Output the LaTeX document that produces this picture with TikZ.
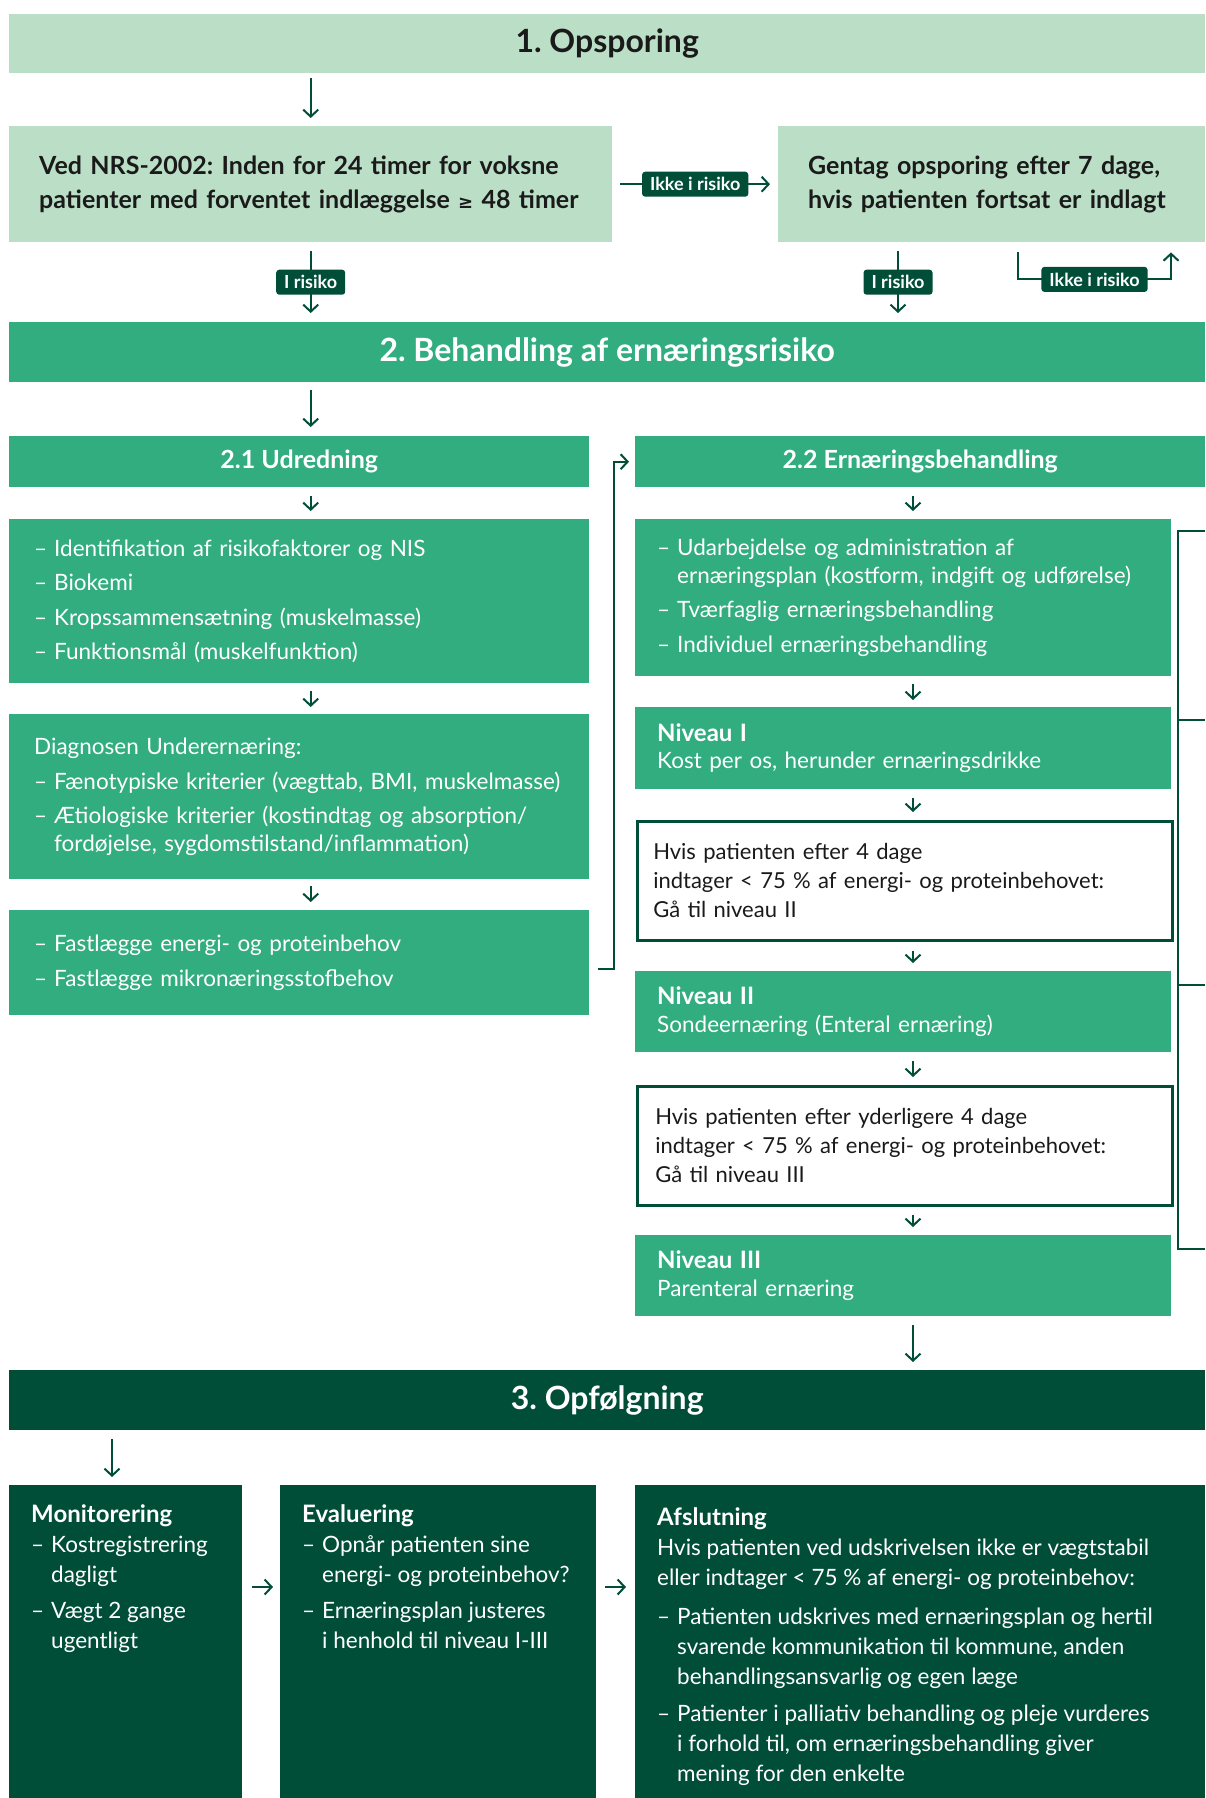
\documentclass[tikz,border=0pt]{standalone}
\usepackage{fontspec}
\setmainfont{Lato}
\newfontfamily\symfont{DejaVu Sans}
\usetikzlibrary{arrows.meta}
\frenchspacing
\definecolor{lysgroen}{HTML}{BBDEC7}
\definecolor{groen}{HTML}{31AD80}
\definecolor{moerkgroen}{HTML}{004E38}
\definecolor{tekst}{HTML}{1A1A1A}
\newcommand{\pkt}{\makebox[20pt][l]{–}}
\newcommand{\ind}{\hspace*{20pt}}
\newcommand{\brod}{\fontsize{22.5}{27.5}\selectfont}
\newcommand{\fed}[1]{{\bfseries\fontsize{24}{27}\selectfont #1}}
\tikzset{boks/.style={anchor=north west, inner ysep=0pt, align=left, font=\brod},
         lys/.style={boks, fill=lysgroen, text=tekst},
         mellem/.style={boks, fill=groen, text=white},
         moerk/.style={boks, fill=moerkgroen, text=white},
         hvid/.style={boks, draw=moerkgroen, line width=2.5pt, fill=white, text=tekst},
         overskrift/.style={align=center, font=\bfseries\fontsize{32}{36}\selectfont},
         underskrift/.style={align=center, font=\bfseries\fontsize{25}{28}\selectfont},
         maerke/.style={fill=moerkgroen, text=white, rounded corners=3pt, inner xsep=8pt, inner ysep=0pt,
                        minimum height=25pt, font=\bfseries\fontsize{18}{20}\selectfont},
         pil/.style={draw=moerkgroen, line width=2pt, -{Straight Barb[length=7pt,width=15pt]}}}

\begin{document}
\begin{tikzpicture}[x=1pt,y=-1pt]
\useasboundingbox (0,0) rectangle (1205,1798);
\node (ops) [lys, overskrift, minimum width=1196pt, minimum height=59pt] at (9,14) {1. Opsporing};
\node (nrs) [lys, font=\bfseries\fontsize{25}{34}\selectfont, inner xsep=30pt, text width=543pt, minimum height=116pt] at (9,126)
  {Ved NRS-2002: Inden for 24 timer for voksne\\ patienter med forventet indlæggelse {\symfont\fontsize{18}{34}\selectfont ≥} 48 timer};
\node (gen) [lys, font=\bfseries\fontsize{25}{34}\selectfont, inner xsep=30pt, text width=367pt, minimum height=116pt] at (778,126)
  {Gentag opsporing efter 7 dage,\\ hvis patienten fortsat er indlagt};
\node (beh) [mellem, overskrift, minimum width=1196pt, minimum height=60pt] at (9,322) {2. Behandling af ernæringsrisiko};

\draw[pil, shorten <=5pt, shorten >=8pt] (ops.south -| nrs.north) -- (nrs.north);
\draw[pil, shorten <=8pt, shorten >=8pt] (nrs.east) -- (gen.west) node[maerke, midway] {Ikke i risiko};
\draw[pil, shorten <=9pt, shorten >=9pt] (nrs.south) -- (beh.north -| nrs.south) node[maerke, midway] {I risiko};
\draw[pil, shorten <=9pt, shorten >=9pt] ([xshift=120pt]gen.south west) -- ([xshift=120pt]gen.south west |- beh.north)
  node[maerke, midway] {I risiko};
\draw[pil] ([xshift=240pt,yshift=-10pt]gen.south west) -- ++(0,27) -| node[maerke, pos=0.25] {Ikke i risiko}
  ([xshift=393pt,yshift=-10pt]gen.south west);

\node (udr) [mellem, underskrift, minimum width=580pt, minimum height=51pt] at (9,436) {2.1 Udredning};
\node (udr1) [mellem, inner xsep=25pt, text width=530pt, minimum height=164pt] at (9,519)
  {\pkt Identifikation af risikofaktorer og NIS\\[7pt] \pkt Biokemi\\[7pt]
   \pkt Kropssammensætning (muskelmasse)\\[7pt] \pkt Funktionsmål (muskelfunktion)};
\node (diag) [mellem, inner xsep=25pt, text width=530pt, minimum height=165pt] at (9,714)
  {Diagnosen Underernæring:\\[7pt] \pkt Fænotypiske kriterier (vægttab, BMI, muskelmasse)\\[7pt]
   \pkt Ætiologiske kriterier (kostindtag og absorption/\\ \ind fordøjelse, sygdomstilstand/inflammation)};
\node (fast) [mellem, inner xsep=25pt, text width=530pt, minimum height=105pt] at (9,910)
  {\pkt Fastlægge energi- og proteinbehov\\[7pt] \pkt Fastlægge mikronæringsstofbehov};

\node (ern) [mellem, underskrift, minimum width=570pt, minimum height=51pt] at (635,436) {2.2 Ernæringsbehandling};
\node (ern1) [mellem, inner xsep=22pt, text width=492pt, minimum height=157pt] at (635,519)
  {\pkt Udarbejdelse og administration af\\ \ind ernæringsplan (kostform, indgift og udførelse)\\[7pt]
   \pkt Tværfaglig ernæringsbehandling\\[7pt] \pkt Individuel ernæringsbehandling};
\node (niv1) [mellem, inner xsep=22pt, text width=492pt, minimum height=82pt] at (635,707)
  {\fed{Niveau I}\\ Kost per os, herunder ernæringsdrikke};
\node (hvis1) [hvid, font=\fontsize{22}{29}\selectfont, inner xsep=16pt, text width=503pt, minimum height=119pt] at (636,820)
  {Hvis patienten efter 4 dage\\ indtager < 75 \% af energi- og proteinbehovet:\\ Gå til niveau II};
\node (niv2) [mellem, inner xsep=22pt, text width=492pt, minimum height=81pt] at (635,971)
  {\fed{Niveau II}\\ Sondeernæring (Enteral ernæring)};
\node (hvis2) [hvid, font=\fontsize{22}{29}\selectfont, inner xsep=18pt, text width=499pt, minimum height=119pt] at (636,1085)
  {Hvis patienten efter yderligere 4 dage\\ indtager < 75 \% af energi- og proteinbehovet:\\ Gå til niveau III};
\node (niv3) [mellem, inner xsep=22pt, text width=492pt, minimum height=81pt] at (635,1235)
  {\fed{Niveau III}\\ Parenteral ernæring};
\draw[moerkgroen, line width=2pt] (1205,531) -| (1178,1249) -- (1205,1249);
\draw[moerkgroen, line width=2pt] (1178,720) -- (1205,720);
\draw[moerkgroen, line width=2pt] (1178,985) -- (1205,985);

\draw[pil, shorten <=8pt, shorten >=9pt] (beh.south -| nrs.south) -- (udr.north -| nrs.south);
\draw[pil, shorten <=9pt, shorten >=8pt] (udr.south -| nrs.south) -- (udr1.north -| nrs.south);
\draw[pil, shorten <=8pt, shorten >=7pt] (udr1.south -| nrs.south) -- (diag.north -| nrs.south);
\draw[pil, shorten <=7pt, shorten >=8pt] (diag.south -| nrs.south) -- (fast.north -| nrs.south);
\draw[pil, shorten >=6pt] ([xshift=9pt,yshift=-6pt]fast.east) -- ++(16,0) |- (ern.west);

\draw[pil, shorten <=9pt, shorten >=8pt] ([xshift=278pt]ern.south west) -- ([xshift=278pt]ern.south west |- ern1.north);
\draw[pil, shorten <=8pt, shorten >=7pt] ([xshift=278pt]ern1.south west) -- ([xshift=278pt]ern1.south west |- niv1.north);
\draw[pil, shorten <=9pt, shorten >=8pt] ([xshift=278pt]niv1.south west) -- ([xshift=278pt]niv1.south west |- hvis1.north);
\draw[pil, shorten <=9pt, shorten >=8pt] ([xshift=277pt]hvis1.south west) -- ([xshift=277pt]hvis1.south west |- niv2.north);
\draw[pil, shorten <=9pt, shorten >=8pt] ([xshift=278pt]niv2.south west) -- ([xshift=278pt]niv2.south west |- hvis2.north);
\draw[pil, shorten <=8pt, shorten >=8pt] ([xshift=277pt]hvis2.south west) -- ([xshift=277pt]hvis2.south west |- niv3.north);

\node (opf) [moerk, overskrift, minimum width=1196pt, minimum height=60pt] at (9,1370) {3. Opfølgning};
\draw[pil, shorten <=9pt, shorten >=8pt] ([xshift=278pt]niv3.south west) -- ([xshift=278pt]niv3.south west |- opf.north);

\node (mon) [moerk, inner xsep=22pt] at (9,1485)
  {\parbox[b][313pt][t]{189pt}{\fontsize{22.5}{30}\selectfont\raggedright\vspace*{19pt}\fed{Monitorering}\\
   \pkt Kostregistrering\\ \ind dagligt\\[6pt] \pkt Vægt 2 gange\\ \ind ugentligt}};
\node (eva) [moerk, inner xsep=22pt] at (280,1485)
  {\parbox[b][313pt][t]{272pt}{\fontsize{22.5}{30}\selectfont\raggedright\vspace*{19pt}\fed{Evaluering}\\
   \pkt Opnår patienten sine\\ \ind energi- og proteinbehov?\\[6pt] \pkt Ernæringsplan justeres\\ \ind i henhold til niveau I-III}};
\node (afs) [moerk, inner xsep=22pt] at (635,1485)
  {\parbox[b][313pt][t]{526pt}{\fontsize{22.5}{30}\selectfont\raggedright\vspace*{22pt}\fed{Afslutning}\\
   Hvis patienten ved udskrivelsen ikke er vægtstabil\\ eller indtager < 75 \% af energi- og proteinbehov:\\[9pt]
   \pkt Patienten udskrives med ernæringsplan og hertil\\ \ind svarende kommunikation til kommune, anden\\
   \ind behandlingsansvarlig og egen læge\\[7pt] \pkt Patienter i palliativ behandling og pleje vurderes\\
   \ind i forhold til, om ernæringsbehandling giver\\ \ind mening for den enkelte}};

\draw[pil, shorten <=9pt, shorten >=8pt] ([xshift=103pt]opf.south west) -- ([xshift=103pt]opf.south west |- mon.north);
\draw[pil, shorten <=10pt, shorten >=7pt] ([yshift=-102pt]mon.north east) -- ([yshift=-102pt]mon.north east -| eva.west);
\draw[pil, shorten <=9pt, shorten >=9pt] ([yshift=-102pt]eva.north east) -- ([yshift=-102pt]eva.north east -| afs.west);
\end{tikzpicture}
\end{document}
